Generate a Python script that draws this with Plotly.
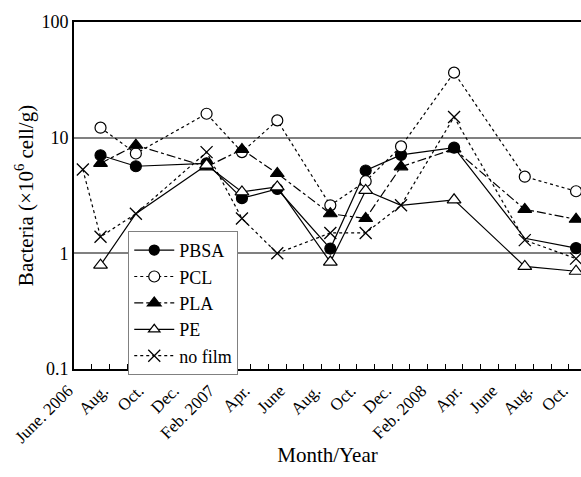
import plotly.graph_objects as go

# months since June 2006 at which samples were taken
sample_month = [0.5, 1.5, 3.5, 7.5, 9.5, 11.5, 14.5, 16.5, 18.5, 21.5, 25.5, 28.4]

pbsa = [None, 7.05, 5.66, 6.0, 3.0, 3.6, 1.1, 5.2, 7.1, 8.2, 1.35, 1.11]
pcl = [None, 12.2, 7.3, 16.1, 7.5, 14.1, 2.6, 4.2, 8.4, 36.5, 4.6, 3.44]
pla = [None, 6.0, 8.6, 5.6, 7.9, 4.9, 2.2, 2.0, 5.6, 8.0, 2.4, 1.97]
pe = [None, 0.79, 2.2, 5.8, 3.4, 3.75, 0.84, 3.5, 2.6, 2.9, 0.77, 0.70]
no_film = [5.3, 1.39, 2.2, 7.5, 2.0, 1.0, 1.5, 1.5, 2.6, 15.1, 1.3, 0.90]

tick_months = list(range(0, 29))
tick_labels = ["June. 2006", "Aug.", "Oct.", "Dec.", "Feb. 2007", "Apr.", "June",
               "Aug.", "Oct.", "Dec.", "Feb. 2008", "Apr.", "June", "Aug.", "Oct."]

y_ticks = [0.1, 1, 10, 100]
y_tick_labels = ["0.1", "1", "10", "100"]

FONT = "Liberation Serif"
ticktext = []
for m in tick_months:
    ticktext.append(tick_labels[m // 2] if m % 2 == 0 else " ")

fig = go.Figure()

def add(name, y, dash, symbol, fill, sizes=None, size=10):
    fig.add_trace(go.Scatter(
        x=sample_month, y=y, name=name, mode="lines+markers",
        connectgaps=False,
        line=dict(color="#000000", width=1.2, dash=dash),
        marker=dict(symbol=symbol, size=sizes if sizes else size, color=fill,
                    opacity=1, line=dict(color="#000000", width=1.2)),
    ))

add("PBSA", pbsa, "solid", "circle", "#000000",
    sizes=[11, 11, 11, 11, 11, 11, 11, 11, 11, 11, 0, 11])
add("PCL", pcl, "dot", "circle", "#ffffff", size=11)
add("PLA", pla, "dashdot", "triangle-up", "#000000", size=12)
add("PE", pe, "solid", "triangle-up", "#ffffff",
    sizes=[12, 12, 0, 12, 12, 12, 12, 12, 0, 12, 12, 12])
fig.add_trace(go.Scatter(
    x=sample_month, y=no_film, name="no film", mode="lines+markers",
    line=dict(color="#000000", width=1.2, dash="dot"),
    marker=dict(symbol="x-thin-open", size=12, color="#000000",
                line=dict(color="#000000", width=1.3)),
))

fig.update_layout(
    width=581, height=477,
    margin=dict(l=74, r=0, t=22, b=108),
    paper_bgcolor="white", plot_bgcolor="white",
    font=dict(family=FONT, size=17, color="black"),
    showlegend=True,
    legend=dict(x=0.107, y=0.398, xanchor="left", yanchor="top",
                bgcolor="white", bordercolor="#808080", borderwidth=1,
                font=dict(family=FONT, size=18), tracegroupgap=0,
                itemwidth=40),
    xaxis=dict(
        range=[0, 28.68], tickmode="array", tickvals=tick_months, ticktext=ticktext,
        tickangle=-45, ticks="inside", ticklen=5, tickcolor="black",
        ticklabelshift=-6, ticklabelstandoff=3,
        showline=True, linecolor="black", linewidth=2, mirror=True,
        showgrid=False, zeroline=False,
        tickfont=dict(family=FONT, size=17),
        title=dict(text="Month/Year", font=dict(family=FONT, size=21), standoff=0),
    ),
    yaxis=dict(
        type="log", range=[-1, 2], tickmode="array", tickvals=y_ticks,
        ticktext=y_tick_labels, ticks="", showline=True, linecolor="black",
        linewidth=2, showgrid=True, gridcolor="#808080", gridwidth=1.5,
        zeroline=False, tickfont=dict(family=FONT, size=18),
        title=dict(text="Bacteria (×10<sup>6</sup> cell/g)",
                   font=dict(family=FONT, size=21), standoff=2),
    ),
)

fig.write_html("out.html")
